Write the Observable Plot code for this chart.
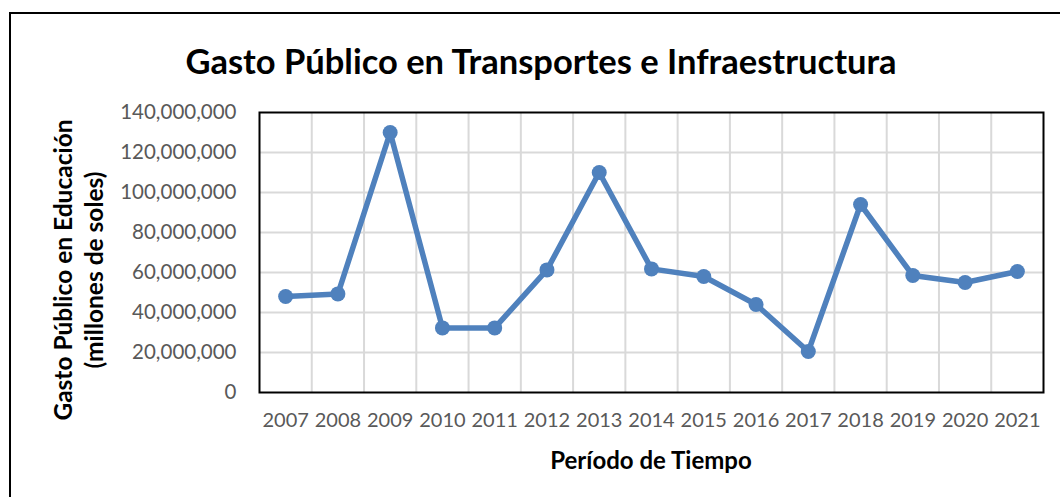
<!DOCTYPE html>
<html>
<head>
<meta charset="utf-8">
<script src="https://cdn.jsdelivr.net/npm/d3@7"></script>
<script src="https://cdn.jsdelivr.net/npm/@observablehq/plot@0.6"></script>
<style>
  html, body { margin: 0; padding: 0; background: #fff; }
  #wrap { position: relative; width: 1060px; height: 497px; overflow: hidden; font-family: Lato, "Open Sans", sans-serif; }
  #border { position: absolute; left: 9px; top: 12px; width: 1100px; height: 600px; border: 2px solid #000; box-sizing: border-box; }
  #chart { position: absolute; left: 0; top: 0; }
  .lbl { position: absolute; font-weight: bold; color: #000; white-space: nowrap; }
  #title { left: 541px; top: 60px; transform: translate(-50%, -50%); font-size: 34.5px; }
  #xtitle { left: 651px; top: 459px; transform: translate(-50%, -50%); font-size: 24px; }
  #ytitle { left: 78px; top: 270px; transform: translate(-50%, -50%) rotate(-90deg); font-size: 24.5px; text-align: center; line-height: 31px; }
</style>
</head>
<body>
<div id="wrap">
  <div id="border"></div>
  <div id="chart"></div>
  <div class="lbl" id="title">Gasto Público en Transportes e Infraestructura</div>
  <div class="lbl" id="xtitle">Período de Tiempo</div>
  <div class="lbl" id="ytitle">Gasto Público en Educación<br>(millones de soles)</div>
</div>
<script>
const years = ["2007","2008","2009","2010","2011","2012","2013","2014","2015","2016","2017","2018","2019","2020","2021"];
const values = [48000000, 49300000, 130000000, 32300000, 32300000, 61300000, 110000000, 61800000, 58000000, 44000000, 20500000, 94000000, 58500000, 55000000, 60500000];
const yTicks = [0, 20000000, 40000000, 60000000, 80000000, 100000000, 120000000, 140000000];

const data = years.map((y, i) => ({i, year: y, value: values[i]}));
const boundaries = years.slice(1).map((_, i) => i + 0.5);
const innerY = yTicks.slice(1, -1);

const chart = Plot.plot({
  width: 1060,
  height: 497,
  marginLeft: 259,
  marginRight: 17,
  marginTop: 112,
  marginBottom: 105,
  style: { fontFamily: "Lato, 'Open Sans', sans-serif", fontSize: "20px", color: "#595959", background: "transparent" },
  x: { type: "linear", domain: [-0.5, years.length - 0.5] },
  y: { domain: [0, 140000000] },
  marks: [
    Plot.ruleY(innerY, { stroke: "#d9d9d9", strokeWidth: 2, strokeOpacity: 1 }),
    Plot.ruleX(boundaries, { stroke: "#d9d9d9", strokeWidth: 2, strokeOpacity: 1 }),
    Plot.axisY(yTicks, { tickSize: 0, tickPadding: 23, tickFormat: d3.format(","), label: null, fontSize: 20.5 }),
    Plot.axisX(years.map((_, i) => i), { tickSize: 0, tickPadding: 20, tickFormat: i => years[i], label: null, fontSize: 20 }),
    Plot.frame({ stroke: "#000", strokeWidth: 2 }),
    Plot.line(data, { x: "i", y: "value", stroke: "#4F81BD", strokeWidth: 5.5, strokeLinejoin: "round", strokeLinecap: "round" }),
    Plot.dot(data, { x: "i", y: "value", r: 7.5, fill: "#4F81BD", stroke: "none" })
  ]
});
document.getElementById("chart").appendChild(chart);
</script>
</body>
</html>
